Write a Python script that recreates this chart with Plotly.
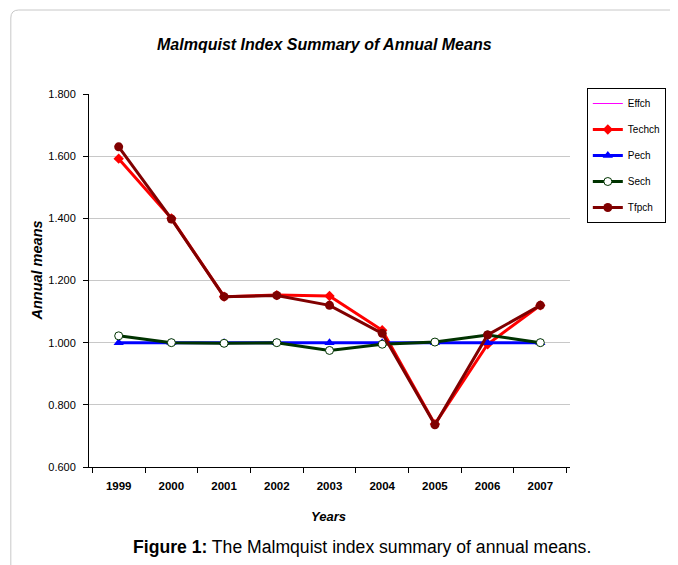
import plotly.graph_objects as go

years = ["1999", "2000", "2001", "2002", "2003", "2004", "2005", "2006", "2007"]
effch = [1.022, 1.000, 0.998, 1.000, 0.975, 0.995, 1.002, 1.025, 1.000]
techch = [1.592, 1.400, 1.148, 1.153, 1.150, 1.040, 0.738, 0.995, 1.120]
pech = [1.000, 1.000, 1.000, 1.000, 1.000, 1.000, 1.000, 1.000, 1.000]
sech = [1.022, 1.000, 0.998, 1.000, 0.975, 0.995, 1.002, 1.025, 1.000]
tfpch = [1.630, 1.398, 1.148, 1.152, 1.120, 1.030, 0.736, 1.025, 1.120]
y_ticks = [0.6, 0.8, 1.0, 1.2, 1.4, 1.6, 1.8]

FONT = "Liberation Sans, Arial, sans-serif"

fig = go.Figure()
fig.add_trace(go.Scatter(x=years, y=effch, name="Effch", mode="lines",
                         line=dict(color="#ff00ff", width=1), legendgroup="a"))
fig.add_trace(go.Scatter(x=years, y=techch, name="Techch", mode="lines+markers",
                         line=dict(color="#ff0000", width=3),
                         marker=dict(symbol="diamond", size=8, color="#ff0000"), legendgroup="b"))
fig.add_trace(go.Scatter(x=years, y=pech, name="Pech", mode="lines+markers",
                         line=dict(color="#0000ff", width=3),
                         marker=dict(symbol="triangle-up", size=9, color="#0000ff"), legendgroup="c"))
fig.add_trace(go.Scatter(x=years, y=sech, name="Sech", mode="lines+markers",
                         line=dict(color="#003300", width=3),
                         marker=dict(symbol="circle", size=8, color="white",
                                     line=dict(color="#003300", width=1)), legendgroup="d"))
fig.add_trace(go.Scatter(x=years, y=tfpch, name="Tfpch", mode="lines+markers",
                         line=dict(color="#800000", width=3),
                         marker=dict(symbol="circle", size=9, color="#800000"), legendgroup="e"))

# page is rendered with an 8px body margin; work in page coordinates
OFF = 8
W, H = 678 - OFF, 565 - OFF
PL, PR, PT, PB = 89, 575, 94, 467  # plot area in page pixels
L, T = PL - OFF, PT - OFF
R, B = W - (PR - OFF), H - (PB - OFF)
pw, ph = PR - PL, PB - PT

def px(x):
    return (x - PL) / pw

def py(y):
    return (PB - y) / ph

x0, y0 = px(10), py(10)
x1, yb = px(700), py(600)
rx, ry = 8 / pw, 8 / ph
path = (f"M {x0},{yb} L {x0},{y0 - ry} Q {x0},{y0} {x0 + rx},{y0} L {x1},{y0}")

fig.update_layout(
    width=W, height=H,
    margin=dict(l=L, r=R, t=T, b=B),
    paper_bgcolor="white", plot_bgcolor="white",
    font=dict(family=FONT, color="black"),
    showlegend=True,
    legend=dict(x=px(592), y=py(88), xanchor="left", yanchor="top",
                bordercolor="black", borderwidth=1, bgcolor="white",
                font=dict(size=10, family=FONT), tracegroupgap=7,
                itemwidth=30),
    shapes=[dict(type="path", xref="paper", yref="paper", path=path,
                 line=dict(color="#c8c8c8", width=1), layer="below")],
    annotations=[
        dict(text="<b><i>Malmquist Index Summary of Annual Means</i></b>",
             xref="paper", yref="paper", x=px(327), y=py(45), showarrow=False,
             font=dict(size=16, family=FONT), xanchor="center", yanchor="middle"),
        dict(text="<b><i>Annual means</i></b>", textangle=-90,
             xref="paper", yref="paper", x=px(36), y=py(271), showarrow=False,
             font=dict(size=14.5, family=FONT), xanchor="center", yanchor="middle"),
        dict(text="<b><i>Years</i></b>",
             xref="paper", yref="paper", x=px(331), y=py(516), showarrow=False,
             font=dict(size=13, family=FONT), xanchor="center", yanchor="middle"),
        dict(text="<b>Figure 1:</b> The Malmquist index summary of annual means.",
             xref="paper", yref="paper", x=px(365), y=py(547), showarrow=False,
             font=dict(size=17.6, family=FONT), xanchor="center", yanchor="middle"),
    ],
)
fig.update_xaxes(
    type="category", tickson="boundaries", ticks="outside", ticklen=5,
    tickcolor="black", showline=True, linecolor="black", linewidth=1,
    showgrid=False, tickfont=dict(size=11.5, family=FONT),
    tickprefix="<b>", ticksuffix="</b>", ticklabelstandoff=8,
)
fig.update_yaxes(
    range=[0.6, 1.8], tickvals=y_ticks, tickformat=".3f",
    tickprefix="<b>", ticksuffix="</b>",
    ticks="outside", ticklen=5, tickcolor="black",
    showline=True, linecolor="black", linewidth=1,
    showgrid=True, gridcolor="#c8c8c8", gridwidth=1, zeroline=False,
    tickfont=dict(size=11, family=FONT), ticklabelstandoff=5,
)

fig.write_html("out.html")
